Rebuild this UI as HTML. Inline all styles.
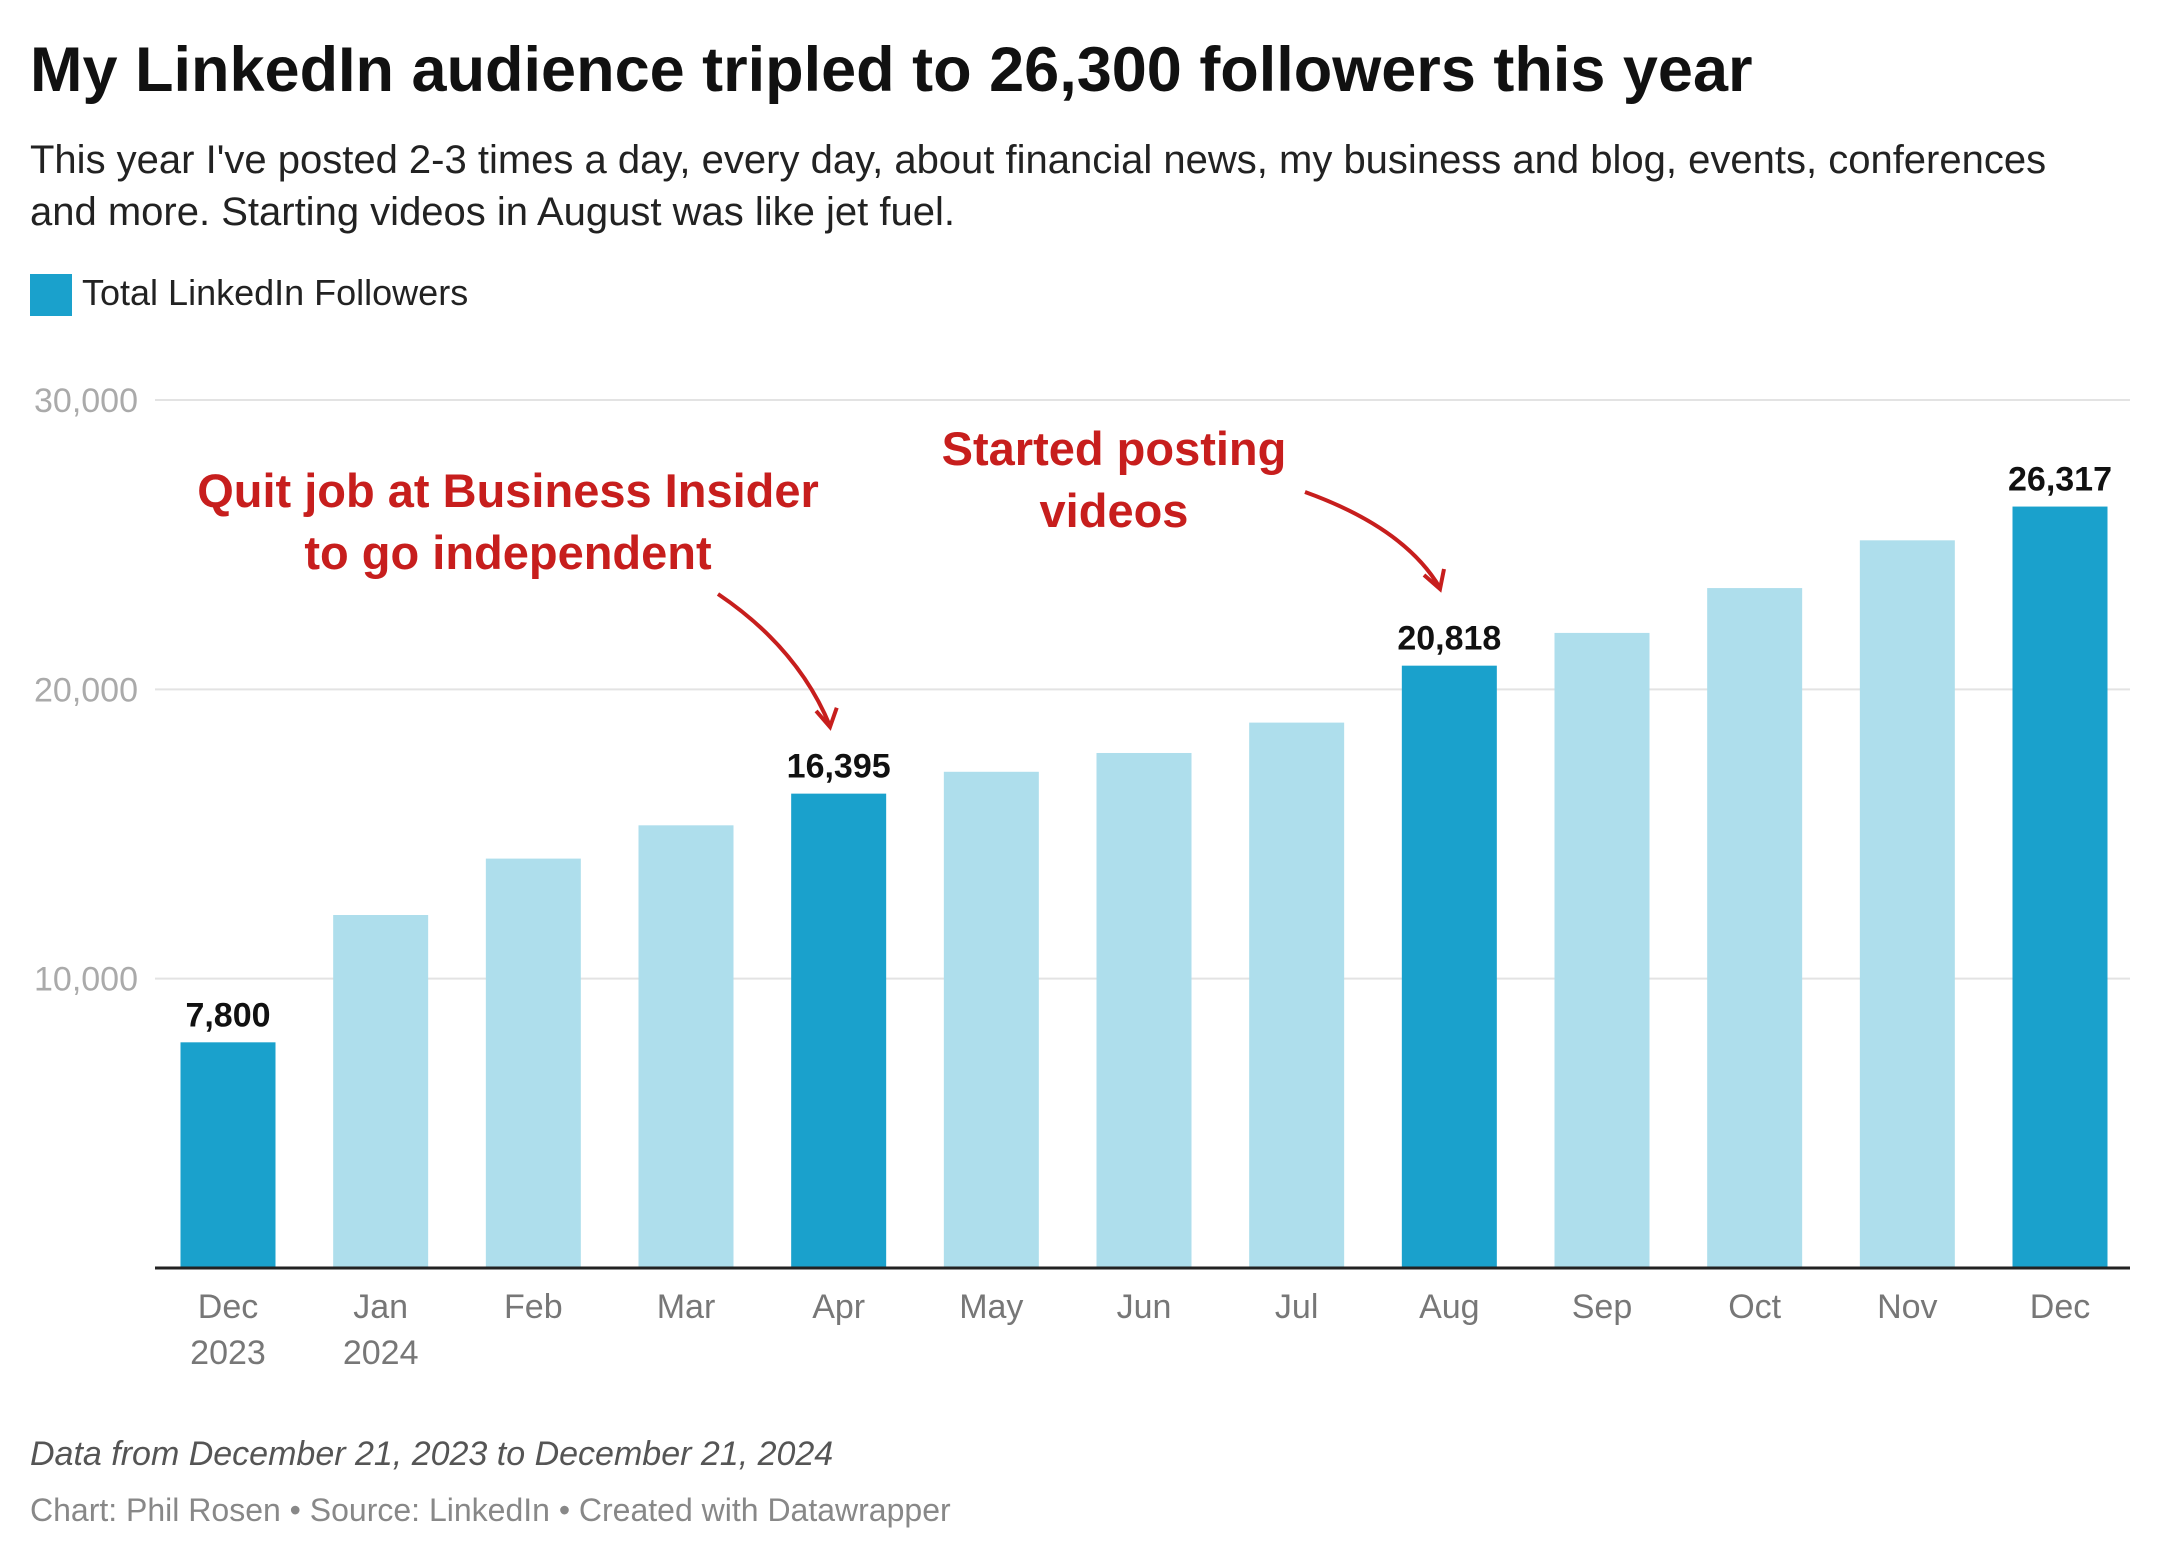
<!DOCTYPE html>
<html><head><meta charset="utf-8"><style>
body{margin:0;width:2160px;height:1560px;background:#fff;font-family:"Liberation Sans",sans-serif;overflow:hidden;position:relative}
.t{position:absolute;white-space:nowrap}
</style></head><body>
<div class="t" style="left:30px;top:34px;font-size:63px;font-weight:bold;color:#111">My LinkedIn audience tripled to 26,300 followers this year</div>
<div class="t" style="left:30px;top:134px;font-size:40px;line-height:52px;color:#222;white-space:normal;width:2085px">This year I've posted 2-3 times a day, every day, about financial news, my business and blog, events, conferences and more. Starting videos in August was like jet fuel.</div>
<div style="position:absolute;left:30px;top:274px;width:42px;height:42px;background:#1aa1cc"></div>
<div class="t" style="left:82px;top:272px;font-size:36px;color:#222">Total LinkedIn Followers</div>
<svg id="chart" width="2160" height="1560" style="position:absolute;left:0;top:0"></svg>
<div class="t" style="left:30px;top:1435px;font-size:34px;font-style:italic;color:#555">Data from December 21, 2023 to December 21, 2024</div>
<div class="t" style="left:30px;top:1492px;font-size:32px;color:#888">Chart: Phil Rosen • Source: LinkedIn • Created with Datawrapper</div>
<script>
const categories=["Dec|2023","Jan|2024","Feb","Mar","Apr","May","Jun","Jul","Aug","Sep","Oct","Nov","Dec"];
const values=[7800,12200,14150,15300,16395,17150,17800,18850,20818,21950,23500,25150,26317];
const highlighted=[true,false,false,false,true,false,false,false,true,false,false,false,true];
const yTicks=[10000,20000,30000];
const yTickLabels=["10,000","20,000","30,000"];
const NS="http://www.w3.org/2000/svg";
const svg=document.getElementById("chart");
const x0=155,x1=2130,yBase=1268,yTop=400,yMax=30000;
const y=v=>yBase-(v/yMax)*(yBase-yTop);
const step=(2060-228)/(categories.length-1);
const xc=i=>228+i*step;
const bw=95;
function mk(tag,attrs){const e=document.createElementNS(NS,tag);for(const k in attrs)e.setAttribute(k,attrs[k]);svg.appendChild(e);return e;}
yTicks.forEach((t,i)=>{
  const g=mk("line",{x1:x0,x2:x1,y1:y(t),y2:y(t),stroke:"#e3e3e3","stroke-width":2});
  
  
  const l=mk("text",{x:138,y:y(t)+12,"text-anchor":"end","font-size":34,fill:"#aaa","font-family":"Liberation Sans"});
  l.textContent=yTickLabels[i];
  
  
});
values.forEach((v,i)=>{
  const r=mk("rect",{x:xc(i)-bw/2,y:y(v),width:bw,height:yBase-y(v),fill:highlighted[i]?"#1aa1cc":"#aedeec"});
  
  
  if(highlighted[i]){
    const t=mk("text",{x:xc(i),y:y(v)-16,"text-anchor":"middle","font-size":34,"font-weight":"bold",fill:"#111","font-family":"Liberation Sans"});
    t.textContent=v.toLocaleString("en-US");
    
    
  }
  categories[i].split("|").forEach((s,j)=>{
    const t=mk("text",{x:xc(i),y:1318+j*46,"text-anchor":"middle","font-size":34,fill:"#777","font-family":"Liberation Sans"});
    t.textContent=s;
    
    
  });
});
const ax=mk("line",{x1:x0,x2:x1,y1:yBase,y2:yBase,stroke:"#222","stroke-width":3});


function ann(lines,cx,by,name){lines.forEach((s,j)=>{const t=mk("text",{x:cx,y:by+j*62,"text-anchor":"middle","font-size":47,"font-weight":"bold",fill:"#c71e1d","font-family":"Liberation Sans"});t.textContent=s;

});}
ann(["Quit job at Business Insider","to go independent"],508,507,"annotation-quit-job");
ann(["Started posting","videos"],1114,465,"annotation-videos");
function arrow(d,hx,hy,a,name){const p=mk("path",{d:d,fill:"none",stroke:"#c71e1d","stroke-width":4});


const h=mk("path",{d:`M${hx-16},${hy-14} L${hx},${hy} L${hx+4},${hy-20}`,fill:"none",stroke:"#c71e1d","stroke-width":4,transform:`rotate(${a} ${hx} ${hy})`});

}
arrow("M718,594 Q798,648 830,726",830,727,8,"arrow-quit-job");
arrow("M1305,492 Q1405,528 1440,588",1440,589,0,"arrow-videos");
</script>
</body></html>
